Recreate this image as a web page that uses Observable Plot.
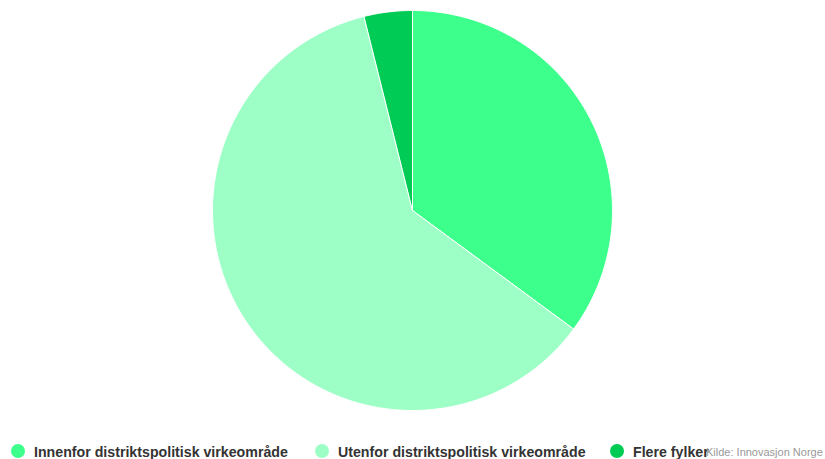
<!DOCTYPE html>
<html>
<head>
<meta charset="utf-8">
<script src="https://cdn.jsdelivr.net/npm/d3@7"></script>
<script src="https://cdn.jsdelivr.net/npm/@observablehq/plot@0.6"></script>
<style>
  body { margin: 0; background: #fff; font-family: "Liberation Sans", Arial, Helvetica, sans-serif; }
  #wrap { position: relative; width: 825px; height: 459px; overflow: hidden; }
  #legend { position: absolute; left: 0; top: 442px; width: 825px; height: 20px; }
  .item { position: absolute; top: 0; font-weight: bold; font-size: 14.2px; color: #333; white-space: nowrap; line-height: 20px; }
  .dot { position: absolute; top: 2px; width: 14px; height: 14px; border-radius: 50%; }
  .src { position: absolute; top: 0; left: 706px; font-size: 11px; color: #999; line-height: 20px; white-space: nowrap; }
</style>
</head>
<body>
<div id="wrap">
  <div id="chart"></div>
  <div id="legend"></div>
</div>
<script>
const categories = ["Innenfor distriktspolitisk virkeområde", "Utenfor distriktspolitisk virkeområde", "Flere fylker"];
const values = [35.1, 61.0, 3.9];
const colors = ["#3dff8c", "#9effc6", "#00cc55"];
const source = "Kilde: Innovasjon Norge";

const pie = d3.pie().sort(null).value(d => d.value);
const arcs = pie(categories.map((c, i) => ({category: c, value: values[i]})));
const pts = [];
arcs.forEach(a => {
  const c = a.data.category;
  pts.push({category: c, x: 0, y: 0});
  const n = Math.max(2, Math.ceil((a.endAngle - a.startAngle) / 0.01));
  for (let k = 0; k <= n; k++) {
    const t = a.startAngle + (a.endAngle - a.startAngle) * k / n;
    pts.push({category: c, x: Math.sin(t), y: Math.cos(t)});
  }
  pts.push({category: c, x: 0, y: 0});
});

const W = 825, H = 420, R = 200, CX = 412, CY = 210;
const chart = Plot.plot({
  width: W, height: H,
  margin: 0,
  x: {domain: [-CX / R, (W - CX) / R], axis: null},
  y: {domain: [-(H - CY) / R, CY / R], axis: null},
  color: {domain: categories, range: colors},
  marks: [
    Plot.line(pts, {x: "x", y: "y", z: "category", fill: "category", stroke: "#fff", strokeWidth: 1, strokeLinejoin: "round", curve: "linear"})
  ]
});
document.getElementById("chart").appendChild(chart);

const legend = document.getElementById("legend");
const lefts = [11, 315, 610];
categories.forEach((c, i) => {
  const d = document.createElement("div");
  d.className = "dot"; d.style.left = lefts[i] + "px"; d.style.background = colors[i];
  legend.appendChild(d);
  const t = document.createElement("div");
  t.className = "item"; t.style.left = (lefts[i] + 23) + "px"; t.textContent = c;
  legend.appendChild(t);
});
const s = document.createElement("div");
s.className = "src"; s.textContent = source;
legend.appendChild(s);
</script>
</body>
</html>
